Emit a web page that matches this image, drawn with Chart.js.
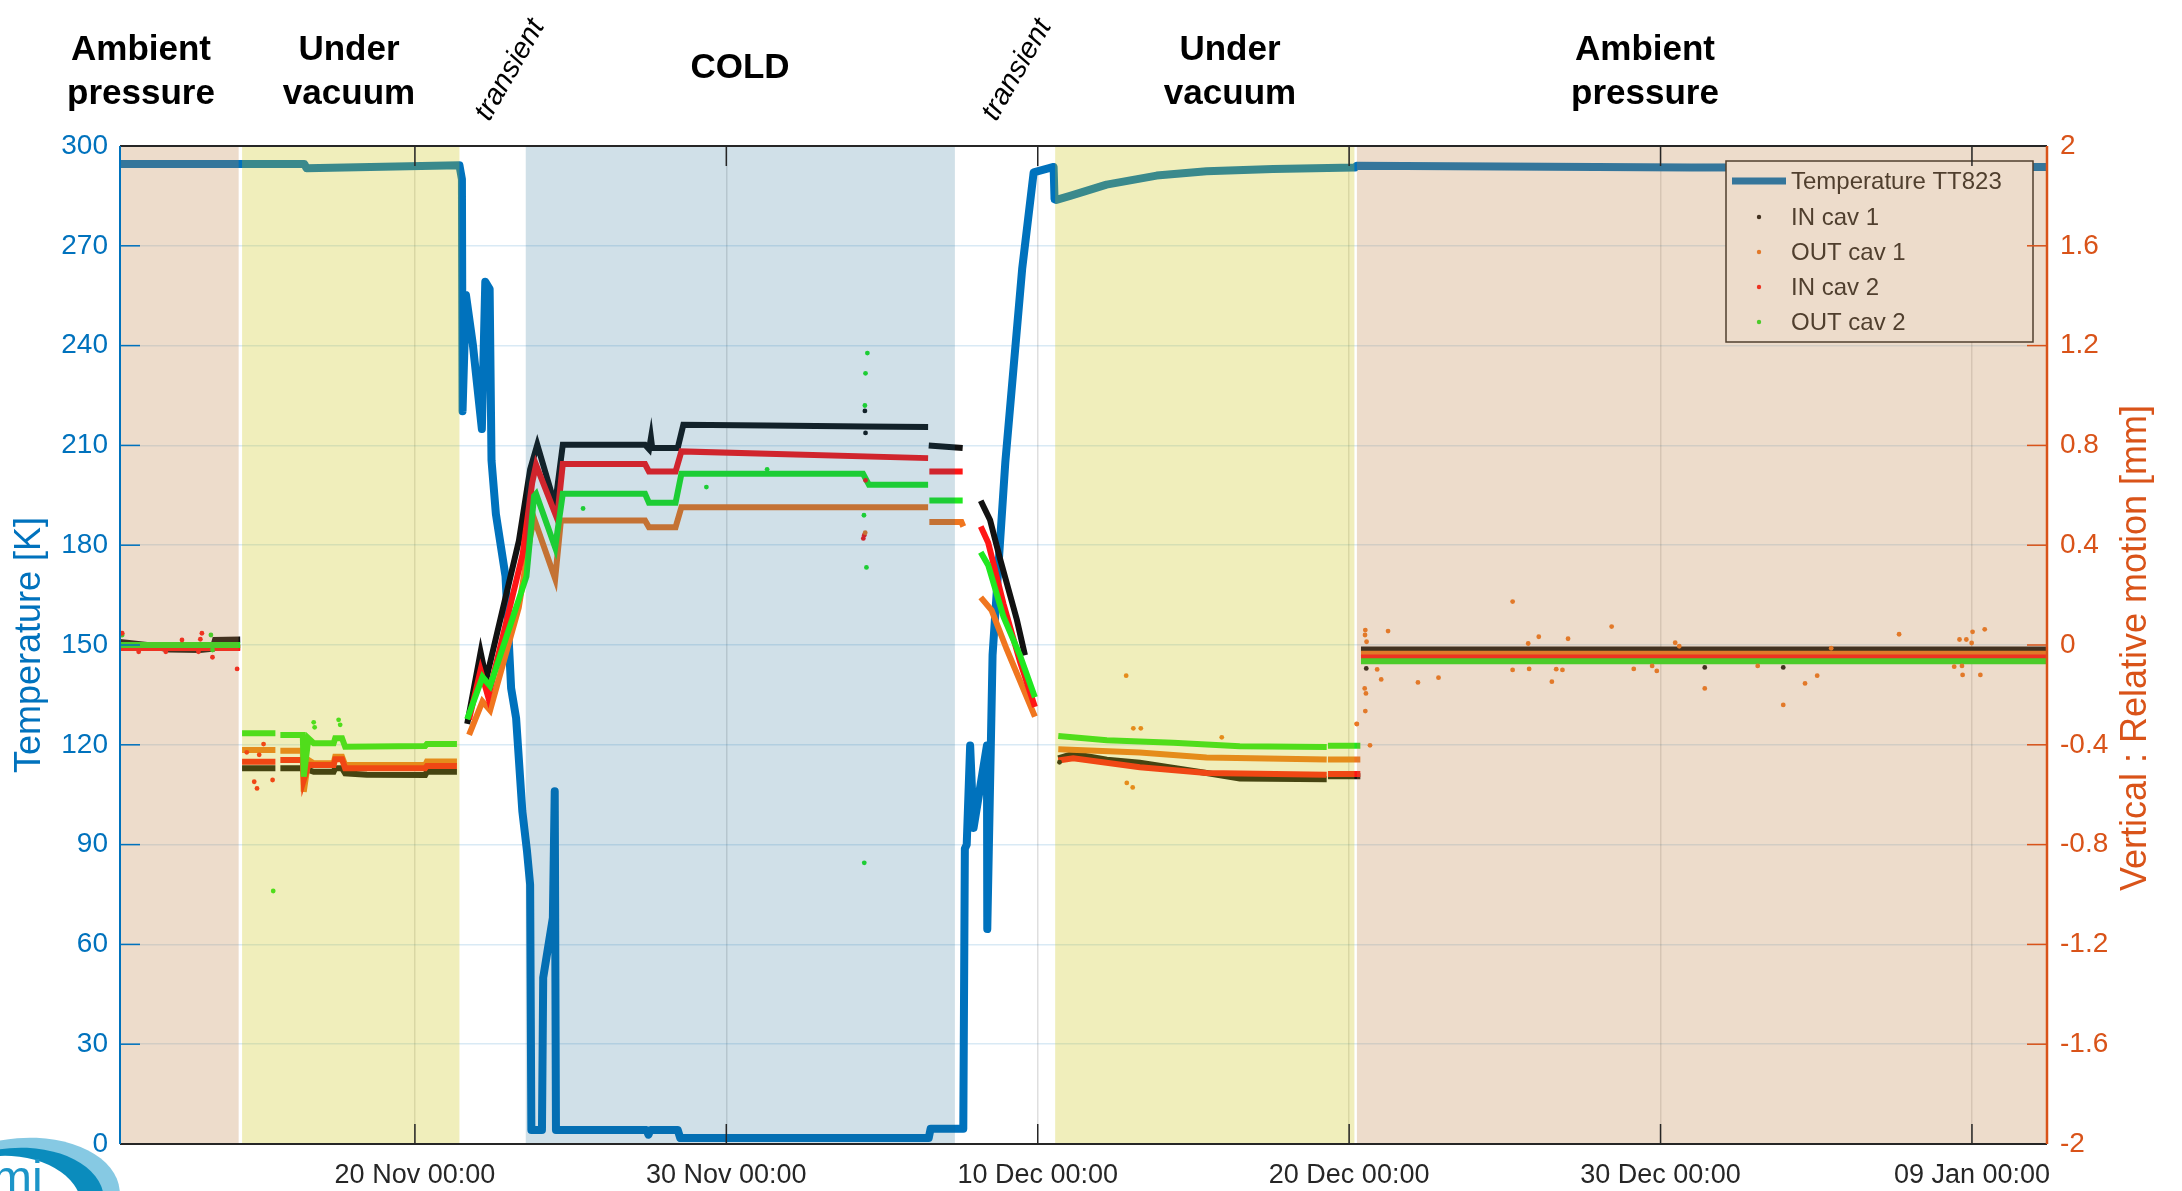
<!DOCTYPE html>
<html>
<head>
<meta charset="utf-8">
<script src="https://cdn.jsdelivr.net/npm/chart.js@4.4.1/dist/chart.umd.min.js"></script>
<style>
  html, body { margin: 0; padding: 0; background: #fff; }
  canvas { display: block; }
</style>
</head>
<body>
<canvas id="chart" width="2182" height="1191" style="width:2182px;height:1191px"></canvas>
<script>
// x values are days counted from 20 Nov 00:00
const dateTicks = [0, 10, 20, 30, 40, 50];
const dateTickLabels = ['20 Nov 00:00', '30 Nov 00:00', '10 Dec 00:00', '20 Dec 00:00', '30 Dec 00:00', '09 Jan 00:00'];
const tempTicks = [0, 30, 60, 90, 120, 150, 180, 210, 240, 270, 300];
const motionTicks = [-2, -1.6, -1.2, -0.8, -0.4, 0, 0.4, 0.8, 1.2, 1.6, 2];
const motionTickLabels = ['-2', '-1.6', '-1.2', '-0.8', '-0.4', '0', '0.4', '0.8', '1.2', '1.6', '2'];

// shaded periods (days)
const periodStart = [-9.47, -5.55, 3.56, 20.56, 30.25];
const periodEnd = [-5.66, 1.43, 17.34, 30.17, 52.41];
const periodKind = ['ambient', 'vacuum', 'cold', 'vacuum', 'ambient'];

// Temperature TT823 [K]
const temperatureTT823 = [
  [-9.47, 294.6], [-3.55, 294.6], [-3.48, 293.3], [1.43, 294.2], [1.51, 290.0], [1.53, 220.3],
  [1.64, 255.2], [1.86, 240.4], [2.15, 214.9], [2.26, 259.2], [2.40, 257.0], [2.46, 205.5],
  [2.60, 189.4], [2.91, 170.6], [3.09, 137.0], [3.25, 128.0], [3.45, 100.0], [3.60, 88.0],
  [3.70, 78.0], [3.74, 4.2], [4.08, 4.2], [4.12, 50.0], [4.43, 68.0], [4.49, 106.0], [4.53, 4.2],
  [7.44, 4.2], [7.50, 2.8], [7.56, 4.2], [8.44, 4.2], [8.52, 1.8], [16.50, 1.8], [16.56, 4.6],
  [17.61, 4.6], [17.66, 88.8], [17.72, 90.0], [17.83, 119.8], [17.94, 95.0], [18.37, 119.8],
  [18.38, 64.6], [18.55, 147.0], [18.96, 205.0], [19.50, 263.0], [19.87, 292.1], [20.51, 293.7],
  [20.54, 284.0], [20.60, 283.8], [21.04, 285.0], [22.21, 288.4], [23.82, 291.1], [25.42, 292.4],
  [27.56, 293.1], [30.19, 293.5], [30.24, 294.1], [41.0, 293.5], [52.41, 293.7]
];

// vertical relative motion [mm], null = no data
const inCav1 = [
  [-9.47, 0.012], [-8.6, 0.0], [-7.9, -0.018], [-6.9, -0.02], [-6.5, -0.015], [-6.42, 0.02], [-5.61, 0.022], [-5.58, null],
  [-5.55, -0.494], [-4.48, -0.494], [-4.40, null], [-4.32, -0.494], [-3.58, -0.494], [-3.25, -0.508], [-2.61, -0.508],
  [-2.56, -0.494], [-2.34, -0.494], [-2.24, -0.514], [-1.54, -0.52], [0.33, -0.521], [0.385, -0.508], [1.35, -0.508], [1.5, null],
  [1.68, -0.316], [2.11, -0.029], [2.29, -0.137], [3.34, 0.418], [3.70, 0.704], [3.93, 0.803], [4.50, 0.561], [4.75, 0.803],
  [7.39, 0.803], [7.52, 0.785], [7.58, 0.83], [7.62, 0.79], [8.44, 0.79], [8.62, 0.883], [11.3, 0.88], [14.45, 0.876],
  [16.48, 0.874], [16.49, null], [16.50, 0.80], [17.59, 0.79], [17.9, null],
  [18.17, 0.578], [18.47, 0.501], [18.79, 0.346], [19.33, 0.101], [19.59, -0.041], [20.1, null],
  [20.66, -0.454], [21.14, -0.436], [22.22, -0.46], [23.28, -0.472], [25.42, -0.513], [26.49, -0.535], [29.28, -0.538],
  [29.30, null], [29.32, -0.526], [30.36, -0.526], [30.37, null],
  [30.38, -0.018], [52.41, -0.018]
];
const outCav1 = [
  [-9.47, -0.008], [-5.61, -0.008], [-5.58, null],
  [-5.55, -0.421], [-4.48, -0.421], [-4.40, null], [-4.32, -0.424], [-3.60, -0.424], [-3.57, -0.588], [-3.42, -0.461],
  [-3.25, -0.474], [-2.61, -0.474], [-2.56, -0.448], [-2.34, -0.448], [-2.24, -0.481], [0.33, -0.481], [0.385, -0.467], [1.35, -0.467], [1.5, null],
  [1.74, -0.36], [2.17, -0.226], [2.415, -0.262], [3.335, 0.15], [3.705, 0.436], [3.827, 0.507], [4.504, 0.266], [4.688, 0.499],
  [7.39, 0.499], [7.515, 0.472], [8.37, 0.472], [8.558, 0.552], [16.48, 0.552], [16.49, null],
  [16.52, 0.493], [17.55, 0.493], [17.61, 0.475], [17.9, null],
  [18.17, 0.191], [18.52, 0.139], [19.0, -0.016], [19.43, -0.144], [19.91, -0.287], [20.1, null],
  [20.66, -0.418], [23.28, -0.431], [25.42, -0.451], [29.28, -0.459], [29.30, null], [29.32, -0.459], [30.36, -0.459], [30.37, null],
  [30.38, -0.035], [52.41, -0.035]
];
const inCav2 = [
  [-9.47, -0.012], [-5.61, -0.012], [-5.58, null],
  [-5.55, -0.468], [-4.48, -0.468], [-4.40, null], [-4.32, -0.461], [-3.60, -0.461], [-3.57, -0.541], [-3.42, -0.48],
  [-3.25, -0.481], [-2.61, -0.481], [-2.56, -0.458], [-2.34, -0.458], [-2.24, -0.494], [0.33, -0.494], [0.385, -0.485], [1.35, -0.485], [1.5, null],
  [1.74, -0.298], [2.108, -0.101], [2.353, -0.208], [3.46, 0.364], [3.766, 0.65], [3.891, 0.722], [4.565, 0.507], [4.749, 0.725],
  [7.39, 0.725], [7.515, 0.695], [8.37, 0.695], [8.558, 0.776], [16.48, 0.749], [16.49, null],
  [16.52, 0.695], [17.59, 0.695], [17.9, null],
  [18.17, 0.475], [18.41, 0.41], [18.9, 0.165], [19.43, -0.067], [19.91, -0.248], [20.1, null],
  [20.66, -0.463], [21.14, -0.454], [23.28, -0.49], [25.42, -0.513], [29.28, -0.52], [29.30, null], [29.32, -0.517], [30.36, -0.517], [30.37, null],
  [30.38, -0.05], [52.41, -0.05]
];
const outCav2 = [
  [-9.47, 0.0], [-5.61, 0.0], [-5.58, null],
  [-5.55, -0.354], [-4.48, -0.354], [-4.40, null], [-4.32, -0.361], [-3.60, -0.361], [-3.57, -0.528], [-3.42, -0.374],
  [-3.25, -0.394], [-2.61, -0.394], [-2.56, -0.374], [-2.34, -0.374], [-2.24, -0.408], [0.33, -0.405], [0.385, -0.397], [1.35, -0.397], [1.5, null],
  [1.678, -0.298], [2.17, -0.128], [2.415, -0.164], [3.582, 0.275], [3.827, 0.597], [3.891, 0.606], [4.504, 0.391], [4.749, 0.606],
  [7.39, 0.606], [7.515, 0.57], [8.37, 0.57], [8.558, 0.686], [14.39, 0.686], [14.58, 0.642], [16.48, 0.642], [16.49, null],
  [16.52, 0.579], [17.59, 0.579], [17.9, null],
  [18.17, 0.372], [18.41, 0.32], [18.9, 0.113], [19.43, -0.041], [19.91, -0.209], [20.1, null],
  [20.66, -0.365], [22.22, -0.382], [24.35, -0.392], [26.49, -0.406], [29.28, -0.409], [29.30, null], [29.32, -0.404], [30.36, -0.404], [30.37, null],
  [30.38, -0.065], [52.41, -0.065]
];

// isolated points away from the main traces
const inCav1Stray = [[14.45, 0.938], [14.47, 0.85], [30.55, -0.094], [41.42, -0.09], [43.94, -0.09], [20.7, -0.47]];
const outCav1Stray = [
  [22.84, -0.123], [23.07, -0.334], [23.31, -0.334], [25.91, -0.37], [22.86, -0.553], [23.05, -0.571], [30.24, -0.316], [30.67, -0.402],
  [30.52, 0.06], [30.51, 0.04], [30.56, 0.013], [30.5, -0.174], [30.54, -0.194], [30.52, -0.265], [30.25, -0.317], [31.03, -0.138],
  [31.25, 0.056], [30.9, -0.098], [32.21, -0.15], [32.87, -0.131], [35.25, 0.174], [35.25, -0.1], [35.75, 0.006], [35.78, -0.096],
  [36.09, 0.033], [36.51, -0.147], [36.65, -0.097], [36.85, -0.1], [37.03, 0.025], [38.43, 0.074], [39.14, -0.096], [39.73, -0.084],
  [39.88, -0.104], [40.47, 0.009], [40.6, -0.005], [41.42, -0.174], [43.12, -0.084], [43.94, -0.24], [44.64, -0.154], [45.03, -0.123],
  [45.48, -0.013], [47.66, 0.043], [49.43, -0.087], [49.6, 0.022], [49.68, -0.084], [49.7, -0.12], [49.82, 0.022], [50.02, 0.053],
  [49.99, 0.008], [50.27, -0.12], [50.41, 0.063], [14.46, 0.45]
];
const inCav2Stray = [
  [-9.40, 0.047], [-8.87, -0.027], [-8.0, -0.027], [-7.48, 0.02], [-6.95, -0.027], [-6.89, 0.023], [-6.84, 0.047], [-6.5, -0.049],
  [-5.71, -0.096], [-5.16, -0.548], [-5.07, -0.575], [-4.86, -0.397], [-4.57, -0.541], [-5.4, -0.43], [-5.0, -0.44],
  [14.40, 0.427], [14.43, 0.44], [14.47, 0.66]
];
const outCav2Stray = [
  [-9.45, 0.047], [-9.40, 0.04], [-6.55, 0.04], [-6.5, -0.02], [-4.55, -0.986], [-3.25, -0.31], [-3.22, -0.33], [-2.45, -0.30],
  [-2.40, -0.32], [5.40, 0.547], [9.36, 0.633], [11.31, 0.704], [14.53, 1.17], [14.47, 1.089], [14.5, 0.311], [14.43, -0.873],
  [14.45, 0.96], [14.42, 0.52]
];

const FONT = '"Liberation Sans", Arial, Helvetica, sans-serif';
const BLUE = '#0072BD';
const ORANGE = '#D95319';
const DARK = '#262626';
const colBlack = '#121212';
const colOrange = '#F0761F';
const colRed = '#FF1616';
const colGreen = '#20E820';

// MATLAB-like translucent patches laid over the data
const periodColors = {
  ambient: 'rgba(190,130,70,0.28)',
  vacuum: 'rgba(203,196,17,0.286)',
  cold: 'rgba(20,100,140,0.2)'
};

const toXY = arr => arr.map(p => ({ x: p[0], y: p[1] }));

function traceSet(label, arr, color, order) {
  return {
    label, data: toXY(arr), yAxisID: 'y2', borderColor: color, backgroundColor: color,
    borderWidth: 6, pointRadius: 0, tension: 0, spanGaps: false, order, legendKind: 'dot'
  };
}
function straySet(arr, color) {
  return {
    label: '', data: toXY(arr), yAxisID: 'y2', showLine: false, pointRadius: 2.4,
    pointBorderWidth: 0, backgroundColor: color, borderColor: color, order: 0
  };
}

function drawLegend(chart) {
  const ctx = chart.ctx;
  const box = { x: 1726, y: 161, w: 307, h: 181 };
  const rows = [181, 217, 252, 287, 322];
  const items = chart.data.datasets.filter(d => d.legendKind);
  ctx.save();
  ctx.fillStyle = '#fff';
  ctx.fillRect(box.x, box.y, box.w, box.h);
  ctx.strokeStyle = DARK;
  ctx.lineWidth = 1.5;
  ctx.strokeRect(box.x, box.y, box.w, box.h);
  ctx.font = `24px ${FONT}`;
  ctx.textBaseline = 'middle';
  items.forEach((d, i) => {
    const y = rows[i];
    if (d.legendKind === 'line') {
      ctx.strokeStyle = d.borderColor;
      ctx.lineWidth = 7;
      ctx.beginPath(); ctx.moveTo(1732, y); ctx.lineTo(1786, y); ctx.stroke();
    } else {
      ctx.fillStyle = d.borderColor;
      ctx.beginPath(); ctx.arc(1759, y, 2.2, 0, Math.PI * 2); ctx.fill();
    }
    ctx.fillStyle = DARK;
    ctx.fillText(d.label, 1791, y + 1);
  });
  ctx.restore();
}

function drawLogo(ctx) {
  ctx.save();
  ctx.fillStyle = '#86C9E3';
  ctx.beginPath(); ctx.ellipse(22, 1198, 98, 60, -0.08, 0, Math.PI * 2); ctx.fill();
  ctx.fillStyle = '#0B8CBD';
  ctx.beginPath(); ctx.ellipse(14, 1204, 90, 56, -0.08, 0, Math.PI * 2); ctx.fill();
  ctx.fillStyle = '#fff';
  ctx.beginPath(); ctx.ellipse(0, 1212, 82, 56, -0.08, 0, Math.PI * 2); ctx.fill();
  ctx.fillStyle = '#1C95C8';
  ctx.font = `48px ${FONT}`;
  ctx.textBaseline = 'alphabetic';
  ctx.fillText('mi', -8, 1194);
  ctx.restore();
}

const decorPlugin = {
  id: 'decor',
  beforeDraw(chart) {
    drawLogo(chart.ctx);
  },
  afterDatasetsDraw(chart) {
    const { ctx, chartArea: a, scales: { x } } = chart;
    drawLegend(chart);
    ctx.save();
    periodStart.forEach((s, i) => {
      const x0 = x.getPixelForValue(s);
      const x1 = x.getPixelForValue(periodEnd[i]);
      ctx.fillStyle = periodColors[periodKind[i]];
      ctx.fillRect(x0, a.top, x1 - x0, a.bottom - a.top);
    });
    ctx.restore();
  },
  afterDraw(chart) {
    const { ctx, chartArea: a, scales } = chart;
    const seg = (x0, y0, x1, y1) => { ctx.beginPath(); ctx.moveTo(x0, y0); ctx.lineTo(x1, y1); ctx.stroke(); };
    ctx.save();
    // tick marks drawn inside the box
    ctx.lineWidth = 1.5;
    ctx.strokeStyle = DARK;
    dateTicks.forEach(v => {
      const px = scales.x.getPixelForValue(v);
      seg(px, a.bottom, px, a.bottom - 20);
      seg(px, a.top, px, a.top + 20);
    });
    ctx.strokeStyle = BLUE;
    tempTicks.forEach(v => { const py = scales.y.getPixelForValue(v); seg(a.left, py, a.left + 20, py); });
    ctx.strokeStyle = ORANGE;
    motionTicks.forEach(v => { const py = scales.y2.getPixelForValue(v); seg(a.right, py, a.right - 20, py); });
    // box
    ctx.lineWidth = 2;
    ctx.strokeStyle = DARK;
    seg(a.left, a.top, a.right, a.top);
    seg(a.left, a.bottom, a.right, a.bottom);
    ctx.strokeStyle = BLUE;
    seg(a.left, a.top, a.left, a.bottom);
    ctx.strokeStyle = ORANGE;
    ctx.lineWidth = 2.5;
    seg(a.right, a.top, a.right, a.bottom);

    // axis titles
    ctx.font = `36px ${FONT}`;
    ctx.textAlign = 'center';
    ctx.textBaseline = 'middle';
    ctx.fillStyle = BLUE;
    ctx.save(); ctx.translate(30, 645); ctx.rotate(-Math.PI / 2); ctx.fillText('Temperature [K]', 0, 0); ctx.restore();
    ctx.fillStyle = ORANGE;
    ctx.save(); ctx.translate(2136, 648); ctx.rotate(-Math.PI / 2); ctx.fillText('Vertical : Relative motion [mm]', 0, 0); ctx.restore();

    // phase labels above the plot
    ctx.fillStyle = '#000';
    ctx.font = `bold 35px ${FONT}`;
    ctx.textBaseline = 'alphabetic';
    const phaseText = [
      { x: 141, lines: ['Ambient', 'pressure'] },
      { x: 349, lines: ['Under', 'vacuum'] },
      { x: 740, lines: ['COLD'] },
      { x: 1230, lines: ['Under', 'vacuum'] },
      { x: 1645, lines: ['Ambient', 'pressure'] }
    ];
    phaseText.forEach(p => {
      if (p.lines.length === 1) ctx.fillText(p.lines[0], p.x, 78);
      else { ctx.fillText(p.lines[0], p.x, 60); ctx.fillText(p.lines[1], p.x, 104); }
    });
    ctx.font = `italic 29px ${FONT}`;
    ctx.textBaseline = 'middle';
    [510, 1017].forEach(cx => {
      ctx.save(); ctx.translate(cx, 70); ctx.rotate(-60 * Math.PI / 180); ctx.fillText('transient', 0, 0); ctx.restore();
    });
    ctx.restore();
  }
};

new Chart(document.getElementById('chart'), {
  type: 'line',
  data: {
    datasets: [
      {
        label: 'Temperature TT823', data: toXY(temperatureTT823), yAxisID: 'y', borderColor: BLUE, backgroundColor: BLUE,
        borderWidth: 8, pointRadius: 0, tension: 0, borderJoinStyle: 'round', borderCapStyle: 'round', order: 5, legendKind: 'line'
      },
      traceSet('IN cav 1', inCav1, colBlack, 4),
      traceSet('OUT cav 1', outCav1, colOrange, 3),
      traceSet('IN cav 2', inCav2, colRed, 2),
      traceSet('OUT cav 2', outCav2, colGreen, 1),
      straySet(inCav1Stray, colBlack),
      straySet(outCav1Stray, colOrange),
      straySet(inCav2Stray, colRed),
      straySet(outCav2Stray, colGreen)
    ]
  },
  options: {
    responsive: false,
    animation: false,
    devicePixelRatio: 1,
    layout: { padding: { top: 146, left: 0, right: 0, bottom: 0 } },
    plugins: { legend: { display: false }, tooltip: { enabled: false } },
    scales: {
      x: {
        type: 'linear', min: -9.47, max: 52.41,
        afterBuildTicks: s => { s.ticks = dateTicks.map(v => ({ value: v })); },
        afterFit: s => { s.height = 47; },
        ticks: {
          autoSkip: false, maxRotation: 0, minRotation: 0, padding: 15, color: DARK,
          font: { family: FONT, size: 27 },
          callback: (v, i) => dateTickLabels[i]
        },
        grid: { color: 'rgba(38,38,38,0.15)', lineWidth: 1.5, drawTicks: false },
        border: { display: false }
      },
      y: {
        position: 'left', min: 0, max: 300,
        afterBuildTicks: s => { s.ticks = tempTicks.map(v => ({ value: v })); },
        afterFit: s => { s.width = 120; },
        ticks: { padding: 12, color: BLUE, font: { family: FONT, size: 28 }, callback: v => String(v) },
        grid: { color: 'rgba(0,114,189,0.15)', lineWidth: 1.5, drawTicks: false },
        border: { display: false }
      },
      y2: {
        position: 'right', min: -2, max: 2,
        afterBuildTicks: s => { s.ticks = motionTicks.map(v => ({ value: v })); },
        afterFit: s => { s.width = 135; },
        ticks: { padding: 13, color: ORANGE, font: { family: FONT, size: 28 }, callback: (v, i) => motionTickLabels[i] },
        grid: { display: false, drawTicks: false },
        border: { display: false }
      }
    }
  },
  plugins: [decorPlugin]
});
</script>
</body>
</html>
